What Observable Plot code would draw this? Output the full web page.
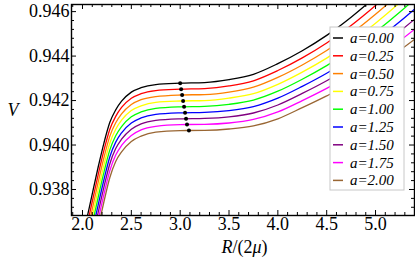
<!DOCTYPE html>
<html><head><meta charset="utf-8">
<script src="https://cdn.jsdelivr.net/npm/d3@7"></script>
<script src="https://cdn.jsdelivr.net/npm/@observablehq/plot@0.6"></script>
<style>
body{margin:0;background:#fff;}
#chart{width:415px;height:263px;}
</style></head><body><div id="chart"></div>
<script>
// R/(2mu) sample positions
const R = [2.04, 2.10, 2.16, 2.22, 2.28, 2.34, 2.40, 2.50, 2.60, 2.75, 3.00, 3.25, 3.50, 3.75, 4.00, 4.25, 4.50, 4.75, 5.00, 5.25, 5.45];
// V for each a
const a000 = [0.93660, 0.93780, 0.93900, 0.94010, 0.94102, 0.94158, 0.94197, 0.94238, 0.94258, 0.94272, 0.94278, 0.94281, 0.94294, 0.94318, 0.94366, 0.94424, 0.94493, 0.94575, 0.94668, 0.94770, 0.94860];
const a025 = [0.93626, 0.93746, 0.93866, 0.93977, 0.94071, 0.94129, 0.94169, 0.94210, 0.94231, 0.94245, 0.94251, 0.94254, 0.94266, 0.94289, 0.94335, 0.94392, 0.94459, 0.94538, 0.94628, 0.94727, 0.94814];
const a050 = [0.93592, 0.93712, 0.93832, 0.93944, 0.94040, 0.94100, 0.94140, 0.94182, 0.94204, 0.94218, 0.94225, 0.94227, 0.94238, 0.94260, 0.94304, 0.94360, 0.94425, 0.94501, 0.94588, 0.94684, 0.94768];
const a075 = [0.93558, 0.93678, 0.93798, 0.93911, 0.94009, 0.94071, 0.94112, 0.94155, 0.94176, 0.94192, 0.94198, 0.94200, 0.94211, 0.94231, 0.94273, 0.94328, 0.94391, 0.94464, 0.94548, 0.94641, 0.94722];
const a100 = [0.93524, 0.93644, 0.93764, 0.93878, 0.93978, 0.94042, 0.94083, 0.94127, 0.94149, 0.94165, 0.94172, 0.94174, 0.94183, 0.94202, 0.94242, 0.94296, 0.94357, 0.94427, 0.94508, 0.94598, 0.94676];
const a125 = [0.93490, 0.93610, 0.93730, 0.93845, 0.93947, 0.94013, 0.94055, 0.94099, 0.94122, 0.94138, 0.94145, 0.94147, 0.94155, 0.94173, 0.94211, 0.94264, 0.94323, 0.94390, 0.94468, 0.94555, 0.94630];
const a150 = [0.93456, 0.93576, 0.93696, 0.93812, 0.93916, 0.93984, 0.94026, 0.94071, 0.94095, 0.94111, 0.94118, 0.94120, 0.94127, 0.94144, 0.94180, 0.94232, 0.94289, 0.94353, 0.94428, 0.94512, 0.94584];
const a175 = [0.93422, 0.93542, 0.93662, 0.93779, 0.93885, 0.93955, 0.93998, 0.94043, 0.94068, 0.94084, 0.94092, 0.94093, 0.94099, 0.94115, 0.94149, 0.94200, 0.94255, 0.94316, 0.94388, 0.94469, 0.94538];
const a200 = [0.93388, 0.93508, 0.93628, 0.93746, 0.93854, 0.93926, 0.93969, 0.94016, 0.94040, 0.94058, 0.94065, 0.94066, 0.94072, 0.94086, 0.94118, 0.94168, 0.94221, 0.94279, 0.94348, 0.94426, 0.94492];
const series = [a000, a025, a050, a075, a100, a125, a150, a175, a200];
const labels = ["a=0.00", "a=0.25", "a=0.50", "a=0.75", "a=1.00", "a=1.25", "a=1.50", "a=1.75", "a=2.00"];
const colors = ["#000000", "#ff0000", "#ff8000", "#ffff00", "#00ff00", "#0000ff", "#800080", "#ff00ff", "#996633"];
// maxima markers
const dotR = [3.00, 3.01, 3.02, 3.03, 3.04, 3.05, 3.06, 3.07, 3.09];
const dotV = [0.94278, 0.94251, 0.94225, 0.94198, 0.94172, 0.94145, 0.94118, 0.94092, 0.94065];
// ticks
const xMajor = [2.0, 2.5, 3.0, 3.5, 4.0, 4.5, 5.0];
const xMinor = [1.9, 2.1, 2.2, 2.3, 2.4, 2.6, 2.7, 2.8, 2.9, 3.1, 3.2, 3.3, 3.4, 3.6, 3.7, 3.8, 3.9, 4.1, 4.2, 4.3, 4.4, 4.6, 4.7, 4.8, 4.9, 5.1, 5.2, 5.3];
const yMajor = [0.938, 0.940, 0.942, 0.944, 0.946];
const yMinor = [0.9372, 0.9376, 0.9384, 0.9388, 0.9392, 0.9396, 0.9404, 0.9408, 0.9412, 0.9416, 0.9424, 0.9428, 0.9432, 0.9436, 0.9444, 0.9448, 0.9452, 0.9456];

const rows = [];
series.forEach((vals, k) => vals.forEach((v, i) => rows.push({R: R[i], V: v, a: labels[k]})));
const dots = dotR.map((r, i) => ({R: r, V: dotV[i]}));

const W = 415, H = 263, ML = 71, MR = 1, MT = 4, MB = 48;
const FW = W - ML - MR, FH = H - MT - MB;
const MAJ = 5, MIN = 3;

const svg = Plot.plot({
  width: W, height: H, marginLeft: ML, marginRight: MR, marginTop: MT, marginBottom: MB,
  style: {fontFamily: "'Liberation Serif', 'Times New Roman', serif", fontSize: "18px", background: "white", color: "black"},
  x: {domain: [1.8874, 5.399]},
  y: {domain: [0.93683, 0.94632]},
  color: {domain: labels, range: colors},
  marks: [
    Plot.line(rows, {x: "R", y: "V", z: "a", stroke: "a", strokeWidth: 1.3, curve: "monotone-x", clip: true}),
    Plot.dot(dots, {x: "R", y: "V", r: 2, fill: "black", stroke: null}),
    Plot.tickX(xMajor, {x: d => d, insetTop: FH - MAJ, stroke: "black"}),
    Plot.tickX(xMajor, {x: d => d, insetBottom: FH - MAJ, stroke: "black"}),
    Plot.tickX(xMinor, {x: d => d, insetTop: FH - MIN, stroke: "black"}),
    Plot.tickX(xMinor, {x: d => d, insetBottom: FH - MIN, stroke: "black"}),
    Plot.tickY(yMajor, {y: d => d, insetRight: FW - MAJ, stroke: "black"}),
    Plot.tickY(yMajor, {y: d => d, insetLeft: FW - MAJ, stroke: "black"}),
    Plot.tickY(yMinor, {y: d => d, insetRight: FW - MIN, stroke: "black"}),
    Plot.tickY(yMinor, {y: d => d, insetLeft: FW - MIN, stroke: "black"}),
    Plot.frame({stroke: "black", strokeWidth: 1.4}),
    Plot.axisX({ticks: xMajor, tickSize: 0, tickPadding: 2, tickFormat: d3.format(".1f"), label: null}),
    Plot.axisY({ticks: yMajor, tickSize: 0, tickPadding: 2, tickFormat: d3.format(".3f"), label: null}),
    Plot.text(["V"], {frameAnchor: "left", dx: -64, dy: 0, fontStyle: "italic", fontSize: 18})
  ]
});
document.getElementById("chart").appendChild(svg);

// x-axis title with mixed italics
const s = d3.select(svg);
const xt = s.append("text").attr("x", ML + FW / 2 + 2).attr("y", 253).attr("text-anchor", "middle")
  .attr("font-size", 18).attr("font-family", "'Liberation Serif', serif");
xt.append("tspan").attr("font-style", "italic").text("R");
xt.append("tspan").text("/(2");
xt.append("tspan").attr("font-style", "italic").text("μ");
xt.append("tspan").text(")");

// legend
const lg = s.append("g");
const LX = 330, LY = 27, LW = 74, LH = 163, ROW = 17.8;
lg.append("rect").attr("x", LX).attr("y", LY).attr("width", LW).attr("height", LH)
  .attr("fill", "white").attr("stroke", "#c8c8c8").attr("stroke-width", 1);
labels.forEach((lab, i) => {
  const y = LY + 11 + i * ROW;
  lg.append("line").attr("x1", LX + 3).attr("x2", LX + 13).attr("y1", y).attr("y2", y)
    .attr("stroke", colors[i]).attr("stroke-width", 1.5);
  lg.append("text").attr("x", LX + 20).attr("y", y).attr("dy", "0.33em")
    .attr("text-anchor", "start")
    .attr("font-size", 15).attr("font-style", "italic")
    .attr("font-family", "'Liberation Serif', serif").text(lab);
});
</script></body></html>
